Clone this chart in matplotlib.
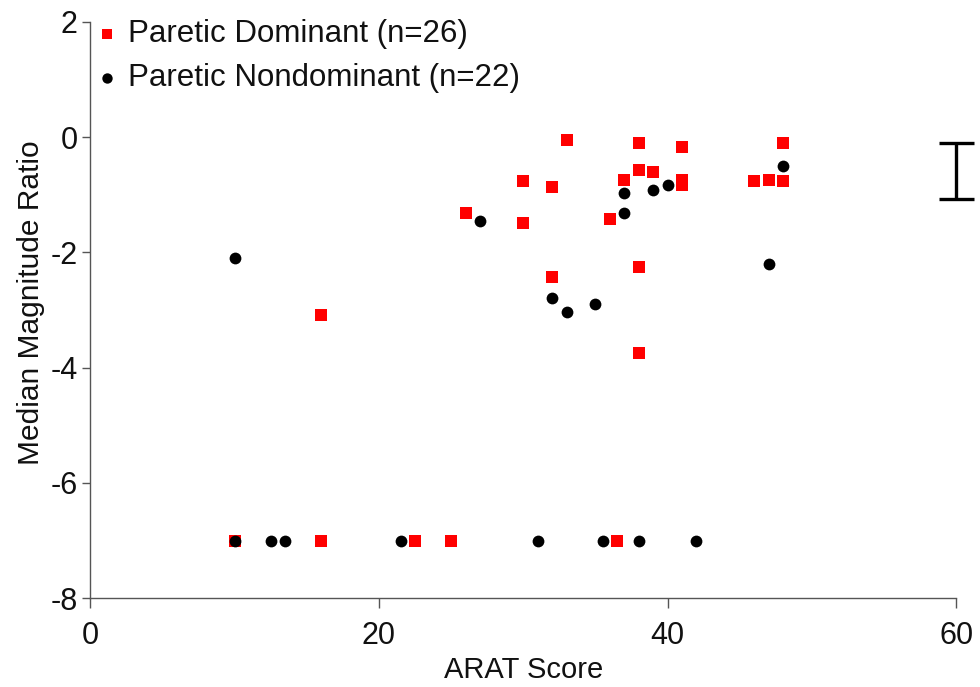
import matplotlib.pyplot as plt

plt.rcParams['font.family'] = ['Liberation Sans', 'DejaVu Sans']

# Paretic Dominant (red squares)
dom_x = [33, 38, 41, 48, 30, 32, 37, 38, 39, 41, 41, 46, 47, 48,
         26, 30, 36, 38, 32, 38, 16,
         10, 16, 22.5, 25, 36.5]
dom_y = [-0.05, -0.11, -0.17, -0.11, -0.77, -0.87, -0.74, -0.58, -0.61, -0.75, -0.84, -0.77, -0.75, -0.77,
         -1.32, -1.49, -1.42, -2.26, -2.42, -3.75, -3.08,
         -7, -7, -7, -7, -7]

# Paretic Nondominant (black circles)
nondom_x = [48, 37, 39, 40, 37, 27, 47, 32, 33, 35, 10,
            10, 12.5, 13.5, 21.5, 31, 35.5, 38, 42]
nondom_y = [-0.51, -0.97, -0.92, -0.84, -1.32, -1.46, -2.21, -2.79, -3.04, -2.90, -2.10,
            -7, -7, -7, -7, -7, -7, -7, -7]

# error bar shown at the right edge
err_x = [60]
err_y = [-0.585]
err_half = [0.485]

fig = plt.figure(figsize=(9.8, 6.87), dpi=100)
ax = fig.add_axes([0.0923, 0.1291, 0.8833, 0.8393])

ax.scatter(dom_x, dom_y, marker='s', s=75, color='#ff0000', linewidths=0,
           label='Paretic Dominant (n=26)', zorder=3)
ax.scatter(nondom_x, nondom_y, marker='o', s=72, color='black', linewidths=0,
           label='Paretic Nondominant (n=22)', zorder=4)

ax.errorbar(err_x, err_y, yerr=err_half, fmt='none', ecolor='black',
            elinewidth=2.4, capsize=12.6, capthick=2.4, clip_on=False, zorder=5)

ax.set_xlim(0, 60)
ax.set_ylim(-8, 2)
ax.set_xticks([0, 20, 40, 60])
ax.set_yticks([-8, -6, -4, -2, 0, 2])
ax.set_yticklabels(['-8', '-6', '-4', '-2', '0', '2'])

for side in ['top', 'right']:
    ax.spines[side].set_visible(False)
for side in ['left', 'bottom']:
    ax.spines[side].set_linewidth(1.0)
    ax.spines[side].set_color('#555555')

ax.tick_params(axis='both', direction='out', width=1.0, color='#555555',
               labelsize=22, labelcolor='#111111')
ax.tick_params(axis='y', length=5.8, pad=3.5)
ax.tick_params(axis='x', length=7.2, pad=9)

ax.set_xlabel('ARAT Score', fontsize=21, color='#111111', labelpad=3.5)
ax.set_ylabel('Median Magnitude Ratio', fontsize=21.5, color='#111111')
ax.yaxis.set_label_coords(-0.053, 0.513)

leg = ax.legend(loc='upper left', bbox_to_anchor=(0.0, 1.017), frameon=False,
                fontsize=22.5, markerscale=0.88, handlelength=0.6, handletextpad=0.36,
                labelspacing=0.43, borderaxespad=0.0, borderpad=0.24)
for t in leg.get_texts():
    t.set_color('#111111')

fig.savefig('out.png', dpi=100)
